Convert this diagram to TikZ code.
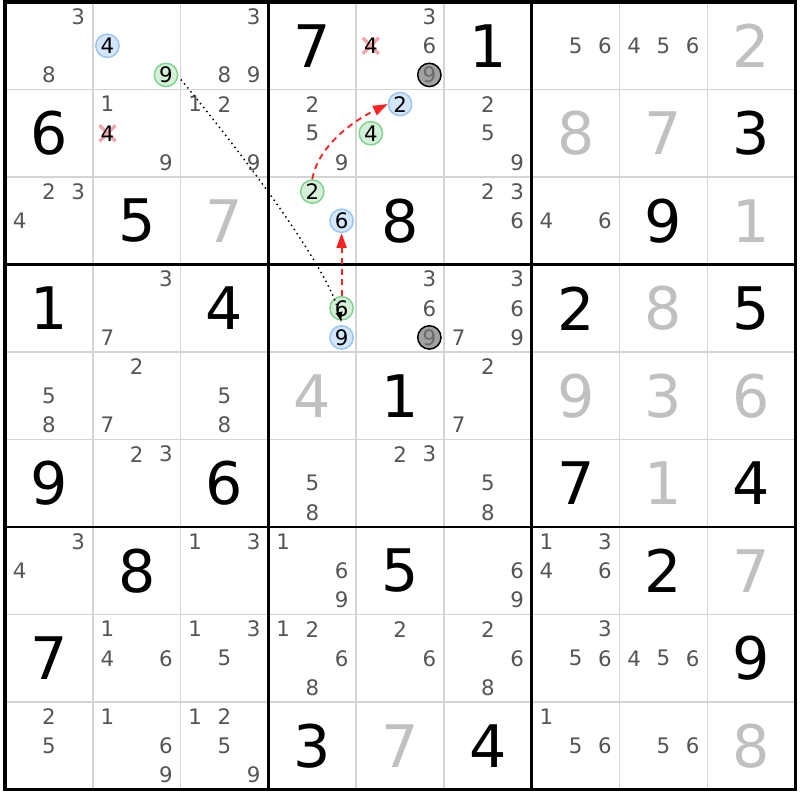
\documentclass[tikz,border=0pt]{standalone}
\usepackage{fontspec}
\setmainfont{DejaVu Sans}
\usetikzlibrary{arrows.meta}
\definecolor{candgray}{HTML}{555555}
\definecolor{solgray}{HTML}{C0C0C0}
\definecolor{gridgray}{HTML}{D4D4D4}
\definecolor{bluefill}{HTML}{D4E6FC}
\definecolor{blueline}{HTML}{96C6F4}
\definecolor{greenfill}{HTML}{D4F0D8}
\definecolor{greenline}{HTML}{7ED48C}
\definecolor{darkfill}{HTML}{A0A0A0}
\definecolor{darkdigit}{HTML}{6A6A6A}
\definecolor{crosspink}{HTML}{F4A4AC}
\definecolor{arrowred}{HTML}{FF2020}
\newcommand\cands[3]{\foreach \dd in {#3}{\node[cand] (n-#1-#2-\dd) at (p-#1-#2-\dd) {\dd};}}
\newcommand\giv[3]{\node[given] (g-#1-#2) at (cc-#1-#2) {#3};}
\newcommand\solv[3]{\node[solved] (g-#1-#2) at (cc-#1-#2) {#3};}
\newcommand\hlc[4]{\node[#4] (n-#1-#2-#3) at (p-#1-#2-#3) {#3};}
\newcommand\xcand[3]{%
  \draw[crossline] ([shift={(-6pt,-6pt)}]p-#1-#2-#3) -- ([shift={(6pt,6pt)}]p-#1-#2-#3);
  \draw[crossline] ([shift={(-6pt,6pt)}]p-#1-#2-#3) -- ([shift={(6pt,-6pt)}]p-#1-#2-#3);
  \node[cand,text=black] (n-#1-#2-#3) at (p-#1-#2-#3) {#3};}
\begin{document}
\begin{tikzpicture}[x=0.75pt,y=-0.75pt,
  cand/.style={font=\fontsize{16}{17}\selectfont, text=candgray, inner sep=0pt},
  given/.style={font=\fontsize{44}{46}\selectfont, text=black, inner sep=0pt},
  solved/.style={given, text=solgray},
  hlcirc/.style={cand, circle, minimum size=17.5pt, line width=1.1pt, text=black},
  hlblue/.style={hlcirc, draw=blueline, fill=bluefill},
  hlgreen/.style={hlcirc, draw=greenline, fill=greenfill},
  hldark/.style={hlcirc, draw=black, fill=darkfill, text=darkdigit, line width=1.1pt},
  crossline/.style={draw=crosspink, line width=2.5pt},
  thingrid/.style={draw=gridgray, line width=1.1pt},
  thickgrid/.style={draw=black, line width=2pt},
  redarrow/.style={draw=arrowred, line width=1.4pt, dash pattern=on 4.5pt off 3.5pt,
    -{Triangle[length=11pt,width=7.5pt,fill=arrowred]}},
  dotarrow/.style={draw=black, line width=1.1pt, dash pattern=on 1.1pt off 2.7pt,
    shorten <=3pt, -{Latex[length=8pt,width=5.5pt]}}]
\useasboundingbox (0,0) rectangle (800,800);
\fill[white] (0,0) rectangle (800,800);
% positions
\foreach \r in {1,...,9}{\foreach \c in {1,...,9}{
  \coordinate (cc-\r-\c) at ({5+(\c-0.5)*87.8},{2+(\r-0.5)*87.5});
  \foreach \d in {1,...,9}{
    \pgfmathtruncatemacro\jj{mod(\d-1,3)}
    \pgfmathtruncatemacro\ii{floor((\d-1)/3)}
    \coordinate (p-\r-\c-\d) at ({5+(\c-1)*87.8+(2*\jj+1)*87.8/6},{2+(\r-1)*87.5+(2*\ii+1)*87.5/6});
  }}}
% grid
\foreach \k in {1,2,4,5,7,8}{
  \draw[thingrid] ({5+\k*87.8},2) -- ({5+\k*87.8},789.5);
  \draw[thingrid] (5,{2+\k*87.5}) -- (795.2,{2+\k*87.5});}
\foreach \k in {3,6}{
  \draw[thickgrid] ({5+\k*87.8},2) -- ({5+\k*87.8},789.5);
  \draw[thickgrid] (5,{2+\k*87.5}) -- (795.2,{2+\k*87.5});}
\draw[thickgrid, line width=2.4pt] (5,2) rectangle (795.2,789.5);
% row 1
\cands{1}{1}{3,8} \hlc{1}{2}{4}{hlblue} \hlc{1}{2}{9}{hlgreen} \cands{1}{3}{3,8,9}
\giv{1}{4}{7} \xcand{1}{5}{4} \cands{1}{5}{3,6} \hlc{1}{5}{9}{hldark} \giv{1}{6}{1}
\cands{1}{7}{5,6} \cands{1}{8}{4,5,6} \solv{1}{9}{2}
% row 2
\giv{2}{1}{6} \cands{2}{2}{1,9} \xcand{2}{2}{4} \cands{2}{3}{1,2,9} \cands{2}{4}{2,5,9}
\hlc{2}{5}{2}{hlblue} \hlc{2}{5}{4}{hlgreen} \cands{2}{6}{2,5,9}
\solv{2}{7}{8} \solv{2}{8}{7} \giv{2}{9}{3}
% row 3
\cands{3}{1}{2,3,4} \giv{3}{2}{5} \solv{3}{3}{7} \hlc{3}{4}{2}{hlgreen} \hlc{3}{4}{6}{hlblue}
\giv{3}{5}{8} \cands{3}{6}{2,3,6} \cands{3}{7}{4,6} \giv{3}{8}{9} \solv{3}{9}{1}
% row 4
\giv{4}{1}{1} \cands{4}{2}{3,7} \giv{4}{3}{4} \hlc{4}{4}{6}{hlgreen} \hlc{4}{4}{9}{hlblue}
\cands{4}{5}{3,6} \hlc{4}{5}{9}{hldark} \cands{4}{6}{3,6,7,9} \giv{4}{7}{2} \solv{4}{8}{8} \giv{4}{9}{5}
% row 5
\cands{5}{1}{5,8} \cands{5}{2}{2,7} \cands{5}{3}{5,8} \solv{5}{4}{4} \giv{5}{5}{1}
\cands{5}{6}{2,7} \solv{5}{7}{9} \solv{5}{8}{3} \solv{5}{9}{6}
% row 6
\giv{6}{1}{9} \cands{6}{2}{2,3} \giv{6}{3}{6} \cands{6}{4}{5,8} \cands{6}{5}{2,3}
\cands{6}{6}{5,8} \giv{6}{7}{7} \solv{6}{8}{1} \giv{6}{9}{4}
% row 7
\cands{7}{1}{3,4} \giv{7}{2}{8} \cands{7}{3}{1,3} \cands{7}{4}{1,6,9} \giv{7}{5}{5}
\cands{7}{6}{6,9} \cands{7}{7}{1,3,4,6} \giv{7}{8}{2} \solv{7}{9}{7}
% row 8
\giv{8}{1}{7} \cands{8}{2}{1,4,6} \cands{8}{3}{1,3,5} \cands{8}{4}{1,2,6,8} \cands{8}{5}{2,6}
\cands{8}{6}{2,6,8} \cands{8}{7}{3,5,6} \cands{8}{8}{4,5,6} \giv{8}{9}{9}
% row 9
\cands{9}{1}{2,5} \cands{9}{2}{1,6,9} \cands{9}{3}{1,2,5,9} \giv{9}{4}{3} \solv{9}{5}{7}
\giv{9}{6}{4} \cands{9}{7}{1,5,6} \cands{9}{8}{5,6} \solv{9}{9}{8}
% connectors
\coordinate (dotend) at ([yshift=-1.5pt]n-4-4-6.south);
\draw[dotarrow] (n-1-2-9.-7) .. controls +(50,60) and +(-15,-60) .. (dotend);
\draw[redarrow] (n-3-4-2.north) .. controls +(5.7,-32.3) and +(-36.7,18) .. (n-2-5-2.west);
\draw[redarrow] (n-4-4-6.north) -- (n-3-4-6.south);
\end{tikzpicture}
\end{document}
